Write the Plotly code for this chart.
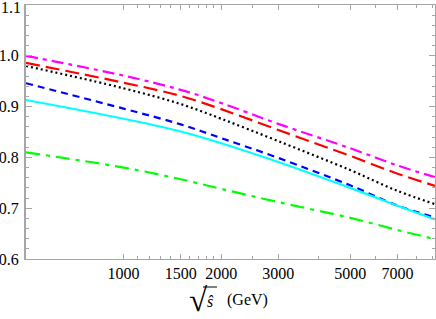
import numpy as np
import plotly.graph_objects as go

# sqrt(s-hat) in GeV
x_vals = [500, 1000, 1500, 2000, 3000, 5000, 7000, 9130]

magenta = [1.000, 0.961, 0.933, 0.907, 0.866, 0.818, 0.784, 0.761]
red     = [0.986, 0.947, 0.921, 0.895, 0.854, 0.803, 0.768, 0.744]
black   = [0.980, 0.936, 0.905, 0.876, 0.832, 0.775, 0.734, 0.708]
blue    = [0.946, 0.896, 0.865, 0.838, 0.799, 0.745, 0.705, 0.682]
cyan    = [0.913, 0.876, 0.851, 0.828, 0.791, 0.740, 0.705, 0.678]
green   = [0.810, 0.780, 0.757, 0.738, 0.712, 0.681, 0.657, 0.639]

x_ticks = [1000, 1500, 2000, 3000, 5000, 7000]
x_minor = [1100, 1200, 1300, 1400, 1600, 1700, 1800, 1900, 2500, 4000, 6000, 8000, 9000]
y_ticks = [0.6, 0.7, 0.8, 0.9, 1.0, 1.1]

series = [
    (magenta, "#ff00ff", "12px,5px,4px,5px"),
    (red,     "#ff0000", "14px,6px"),
    (black,   "#000000", "2px,3px"),
    (blue,    "#0000ff", "7px,5px"),
    (cyan,    "#00ffff", "solid"),
    (green,   "#00ff00", "14px,6px,4px,6px"),
]

fig = go.Figure()
for ys, col, dash in series:
    fig.add_trace(go.Scatter(x=x_vals, y=ys, mode="lines", line_shape="spline",
                             line=dict(color=col, width=2.2, dash=dash),
                             showlegend=False, hoverinfo="skip"))

axis_col = "#a6a6a6"
serif = "Liberation Serif"
font = dict(family=serif, size=16, color="black")

fig.update_layout(
    width=436, height=319,
    margin=dict(l=26, r=1, t=5, b=60, autoexpand=False),
    paper_bgcolor="white", plot_bgcolor="white",
    font=font,
    xaxis=dict(type="log", range=[np.log10(500), np.log10(9130)], automargin=False,
               tickmode="array", tickvals=x_ticks, ticktext=[str(v) for v in x_ticks],
               tickfont=font,
               ticks="inside", ticklen=5, tickwidth=1, tickcolor=axis_col,
               minor=dict(tickmode="array", tickvals=x_minor, ticks="inside", ticklen=3,
                          tickcolor=axis_col, showgrid=False),
               showline=True, linecolor=axis_col, linewidth=1, mirror="ticks",
               showgrid=False, zeroline=False),
    yaxis=dict(range=[0.6, 1.1], automargin=False,
               tickmode="array", tickvals=y_ticks[:-1],
               ticktext=[f"{v:.1f}" for v in y_ticks[:-1]],
               tickfont=font,
               ticks="inside", ticklen=6, tickwidth=1, tickcolor=axis_col,
               minor=dict(dtick=0.02, ticks="inside", ticklen=3, tickcolor=axis_col,
                          showgrid=False),
               showline=True, linecolor=axis_col, linewidth=2, mirror="ticks",
               showgrid=False, zeroline=False, ticklabelstandoff=2),
)

# top y tick label (drawn as annotation so it is not hidden at the edge)
fig.add_annotation(text=f"{y_ticks[-1]:.1f}", x=0, y=y_ticks[-1], xref="paper", yref="y",
                   xanchor="right", yanchor="middle", xshift=-3, yshift=-2,
                   showarrow=False, font=font)

# axis title: sqrt(s-hat) (GeV)
W, X0, Y0, H = 409.0, 26.0, 259.0, 254.0
def px(x):
    return (x - X0) / W
def py(y):
    return (Y0 - y) / H

fig.add_annotation(text="√", x=px(198), y=py(300), xref="paper", yref="paper",
                   xanchor="center", yanchor="middle",
                   showarrow=False, font=dict(family=serif, size=33, color="black"))
fig.add_annotation(text="<i>ŝ</i>", x=px(210), y=py(301), xref="paper", yref="paper",
                   xanchor="center", yanchor="middle",
                   showarrow=False, font=dict(family=serif, size=16, color="black"))
fig.add_annotation(text="(GeV)", x=px(248), y=py(300), xref="paper", yref="paper",
                   xanchor="center", yanchor="middle",
                   showarrow=False, font=font)
fig.add_shape(type="line", xref="paper", yref="paper",
              x0=px(203), x1=px(217), y0=py(287), y1=py(287),
              line=dict(color="black", width=1))

fig.write_html("out.html", config={"displayModeBar": False},
               post_script="document.body.style.margin='0';document.body.style.padding='0';")
